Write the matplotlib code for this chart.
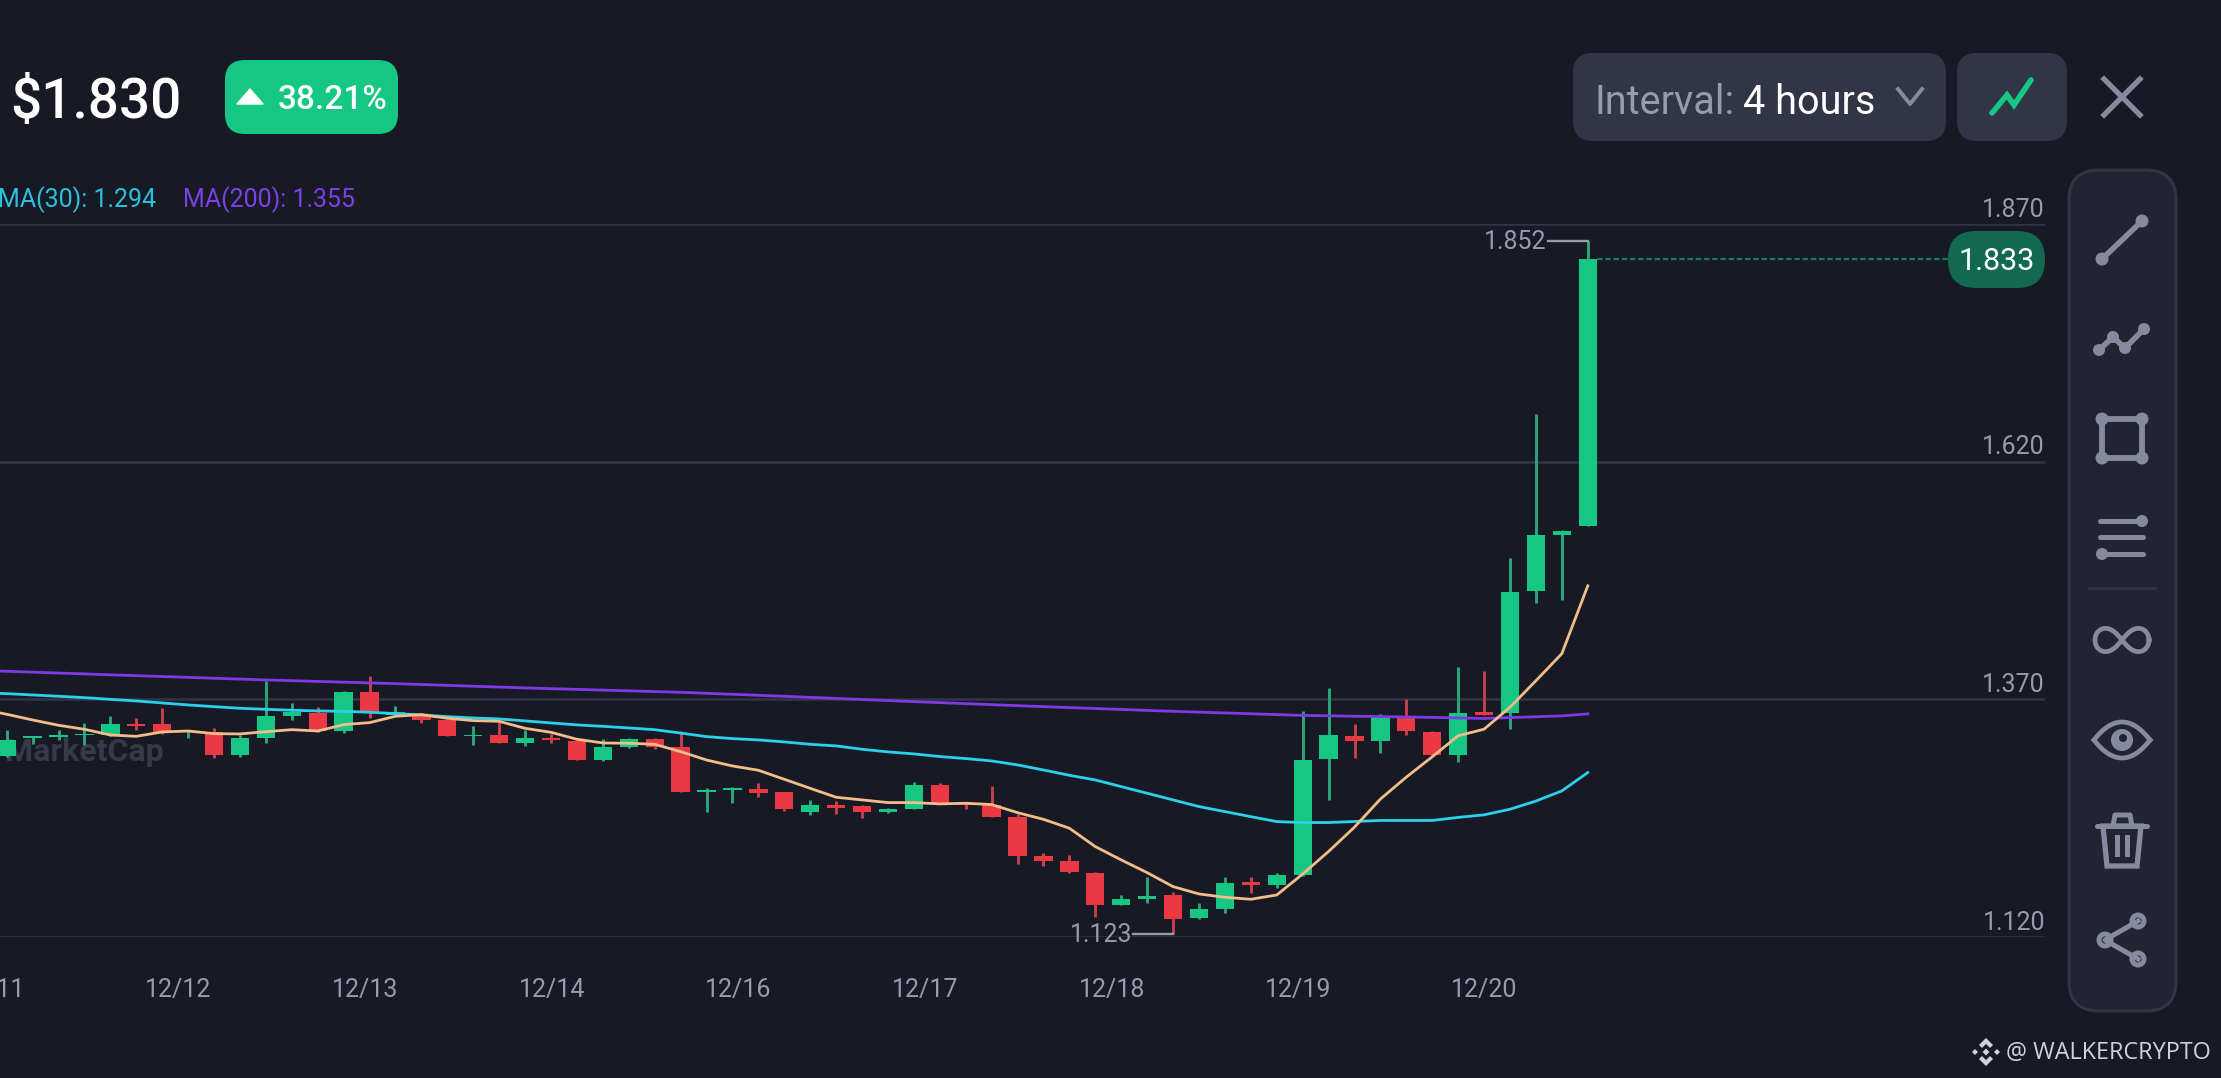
import matplotlib
matplotlib.use("Agg")
import matplotlib.pyplot as plt
from matplotlib.patches import FancyBboxPatch, Polygon, Rectangle, Circle
import numpy as np

plt.rcParams['font.family'] = ['Roboto', 'DejaVu Sans']

BG = "#171a25"
PANEL = "#222531"
BORDER = "#323546"
BUTTON = "#323546"
GREEN = "#16c784"
RED = "#ea3943"
GREEN_WICK = "#2aa57c"
RED_WICK = "#c8404a"
ICON = "#858a9e"
LABEL = "#979baa"

# 4h candles, price
opens = [1.310, 1.329, 1.330, 1.332, 1.3325, 1.344, 1.344, 1.336, 1.336, 1.311,
         1.329, 1.3525, 1.356, 1.337, 1.378, 1.353, 1.3535, 1.348, 1.331, 1.332,
         1.3245, 1.329, 1.326, 1.306, 1.320, 1.328, 1.3195, 1.2726, 1.2750, 1.2757,
         1.2722, 1.2516, 1.2593, 1.2582, 1.2519, 1.2551, 1.2803, 1.2610, 1.2593, 1.2459,
         1.2049, 1.2000, 1.1877, 1.1537, 1.1600, 1.1639, 1.1397, 1.1492, 1.1776, 1.1751,
         1.1857, 1.3070, 1.3317, 1.3263, 1.3504, 1.3359, 1.3118, 1.3569, 1.3558, 1.4835,
         1.5426, 1.5522]
closes = [1.327, 1.331, 1.332, 1.334, 1.344, 1.342, 1.335, 1.337, 1.311, 1.329,
          1.352, 1.357, 1.337, 1.378, 1.356, 1.357, 1.348, 1.331, 1.333, 1.3245,
          1.329, 1.327, 1.306, 1.320, 1.328, 1.3195, 1.273, 1.2747, 1.2771, 1.2719,
          1.2544, 1.2589, 1.2561, 1.2519, 1.2551, 1.2800, 1.2607, 1.2586, 1.2463, 1.2053,
          1.2004, 1.1881, 1.1537, 1.1600, 1.1635, 1.1393, 1.1492, 1.1769, 1.1744, 1.1856,
          1.3064, 1.3322, 1.3263, 1.3510, 1.3365, 1.3113, 1.3558, 1.3537, 1.4830, 1.5431,
          1.5474, 1.833]
highs = [1.338, 1.331, 1.338, 1.345, 1.352, 1.350, 1.361, 1.338, 1.340, 1.332,
         1.389, 1.366, 1.362, 1.379, 1.395, 1.363, 1.356, 1.349, 1.342, 1.347,
         1.338, 1.3335, 1.327, 1.328, 1.329, 1.329, 1.337, 1.2768, 1.2775, 1.2824,
         1.2726, 1.2642, 1.2635, 1.2589, 1.2554, 1.2831, 1.2824, 1.2621, 1.2789, 1.2494,
         1.2081, 1.2060, 1.1881, 1.1639, 1.1828, 1.1670, 1.1555, 1.1835, 1.1832, 1.1870,
         1.3579, 1.3821, 1.3440, 1.3547, 1.3708, 1.3370, 1.4041, 1.3993, 1.5189, 1.6703,
         1.5479, 1.852]
lows = [1.309, 1.323, 1.327, 1.322, 1.3315, 1.338, 1.334, 1.329, 1.308, 1.309,
        1.324, 1.348, 1.336, 1.335, 1.350, 1.352, 1.345, 1.331, 1.322, 1.324,
        1.321, 1.324, 1.306, 1.305, 1.319, 1.3175, 1.272, 1.2519, 1.2607, 1.2677,
        1.2523, 1.2487, 1.2494, 1.2452, 1.2501, 1.2544, 1.2600, 1.2544, 1.2459, 1.1972,
        1.1951, 1.1877, 1.1415, 1.1534, 1.1558, 1.123, 1.1393, 1.1457, 1.1667, 1.1713,
        1.1846, 1.2646, 1.3080, 1.3139, 1.3322, 1.3107, 1.3037, 1.3537, 1.3392, 1.4717,
        1.4749, 1.552]

# moving averages, first value is one candle left of the frame
ma_orange = [1.3595, 1.3543, 1.3483, 1.3427, 1.3385, 1.3325, 1.3311, 1.3357, 1.3367, 1.3339,
             1.3336, 1.3360, 1.3381, 1.3367, 1.3434, 1.3455, 1.3522, 1.3539, 1.3501, 1.3476,
             1.3469, 1.3395, 1.3353, 1.3280, 1.3241, 1.3238, 1.3227, 1.3150, 1.3062, 1.2999,
             1.2954, 1.2859, 1.2764, 1.2670, 1.2642, 1.2614, 1.2614, 1.2600, 1.2607, 1.2593,
             1.2508, 1.2438, 1.2344, 1.2151, 1.2011, 1.1877, 1.1730, 1.1653, 1.1618, 1.1597,
             1.1642, 1.1862, 1.2100, 1.2356, 1.2651, 1.2882, 1.3096, 1.3317, 1.3386, 1.3617,
             1.3896, 1.4181, 1.4894]
ma30 = [1.3771, 1.3760, 1.3746, 1.3732, 1.3718, 1.3700, 1.3683, 1.3662, 1.3641, 1.3623,
        1.3606, 1.3595, 1.3585, 1.3578, 1.3574, 1.3564, 1.3550, 1.3536, 1.3518, 1.3504,
        1.3494, 1.3473, 1.3452, 1.3431, 1.3416, 1.3399, 1.3381, 1.3345, 1.3308, 1.3287,
        1.3273, 1.3252, 1.3227, 1.3210, 1.3175, 1.3147, 1.3126, 1.3098, 1.3077, 1.3052,
        1.3010, 1.2957, 1.2901, 1.2852, 1.2782, 1.2712, 1.2642, 1.2572, 1.2519, 1.2466,
        1.2414, 1.2404, 1.2404, 1.2415, 1.2426, 1.2426, 1.2426, 1.2458, 1.2485, 1.2544,
        1.2630, 1.2737, 1.2930]
ma200_idx = [-1, 0, 5, 10, 15, 20, 26, 30, 35, 40, 45, 50, 55, 57, 60, 61]
ma200 = [1.4003, 1.3995, 1.3949, 1.3904, 1.3865, 1.3820, 1.3774, 1.3732, 1.3676, 1.3623,
         1.3574, 1.3531, 1.3510, 1.3499, 1.3526, 1.3547]

price_ticks = [1.120, 1.370, 1.620, 1.870]
date_labels = ["12/11", "12/12", "12/13", "12/14", "12/16", "12/17", "12/18", "12/19", "12/20"]
date_idx = [-0.57, 6.63, 13.84, 21.04, 28.22, 35.43, 42.64, 49.82, 57.02]

last_price = 1.833
low_mark = 1.123
high_mark = 1.852


def rbox(ax, x0, y0, x1, y1, r, fc, ec="none", lw=0):
    ax.add_patch(FancyBboxPatch((x0, y0), x1 - x0, y1 - y0,
                                boxstyle=f"round,pad=0,rounding_size={r}",
                                fc=fc, ec=ec, lw=lw))


def draw_candles(ax):
    x = np.arange(len(opens))
    o = np.array(opens)
    c = np.array(closes)
    up = c >= o
    wick_cols = [GREEN_WICK if u else RED_WICK for u in up]
    body_cols = [GREEN if u else RED for u in up]
    ax.vlines(x, lows, highs, colors=wick_cols, lw=2.1, zorder=3)
    ax.bar(x, np.abs(c - o), bottom=np.minimum(o, c), width=0.706, color=body_cols, zorder=4)


def draw_chart(ax):
    ax.set_facecolor("none")
    for s in ax.spines.values():
        s.set_visible(False)

    ax.set_yticks(price_ticks)
    ax.set_yticklabels([])
    ax.grid(axis='y', color=BORDER, lw=1.8, zorder=1)
    ax.set_axisbelow(True)
    ax.tick_params(axis='y', length=0)
    ax.set_xticks(date_idx)
    ax.set_xticklabels(date_labels, fontsize=18, color=LABEL)
    ax.tick_params(axis='x', length=0, pad=29.5)

    # axes start left of the figure so 12/11 is cut by the edge like in the app
    ax.set_xlim(-2.573, 78.64)
    ax.set_ylim(1.12, 1.87)

    for p in price_ticks:
        ax.annotate(f"{p:.3f}", xy=(1, p), xycoords=('axes fraction', 'data'),
                    xytext=(0, 5.2), textcoords='offset points', ha='right', va='baseline',
                    fontsize=18, color=LABEL)

    ax.text(6.04, 1.3150, "MarketCap", fontsize=23, fontweight='bold', color="#363946",
            ha='right', va='center', zorder=0)

    draw_candles(ax)

    x_ma = np.arange(-1, len(opens))
    ax.plot(ma200_idx, ma200, color="#8139e8", lw=2.0, zorder=5)
    ax.plot(x_ma, ma30, color="#2bd0ea", lw=2.0, zorder=6)
    ax.plot(x_ma, ma_orange, color="#f3bd8a", lw=2.0, zorder=7)

    # high / low leaders
    last = len(opens) - 1
    ax.plot([last - 1.55, last], [high_mark, high_mark], color=LABEL, lw=1.7, zorder=5)
    ax.text(last - 1.58, high_mark - 0.001, f"{high_mark:.3f}", fontsize=18, color=LABEL, ha='right', va='center')
    low_i = int(np.argmin(lows))
    ax.plot([low_i - 1.55, low_i], [low_mark, low_mark], color=LABEL, lw=1.7, zorder=5)
    ax.text(low_i - 1.58, low_mark - 0.001, f"{low_mark:.3f}", fontsize=18, color=LABEL, ha='right', va='center')

    # current price
    ax.plot([last + 0.35, 75], [last_price, last_price], color="#157a5a", lw=1.6,
            ls=(0, (2.5, 1.2)), zorder=2)


def draw_header(ui):
    ui.text(10, 102.5, "$1.830", fontsize=39.5, color="white", fontweight='medium', ha='left', va='center')
    rbox(ui, 225, 60, 398, 134, 20, GREEN)
    ui.add_patch(Polygon([(237, 104), (250, 89), (263, 104)], closed=True, fc="white", ec="white", lw=1, joinstyle='round'))
    ui.text(278, 100, "38.21%", fontsize=24, color="white", fontweight='medium', ha='left', va='center')

    ui.text(-2, 200, "MA(30): 1.294", fontsize=18, color="#2bc0dc", ha='left', va='center')
    ui.text(183, 200, "MA(200): 1.355", fontsize=18, color="#7c40e4", ha='left', va='center')

    rbox(ui, 1573, 53, 1946, 141, 20, BUTTON)
    rbox(ui, 1957, 53, 2067, 141, 20, BUTTON)
    ui.text(1594, 102, "Interval:", fontsize=28.5, color="#979baa", ha='left', va='center')
    ui.text(1743, 102, "4 hours", fontsize=28.5, color="white", ha='left', va='center')
    ui.plot([1898, 1910, 1922], [89, 104, 89], color=ICON, lw=2.8)
    ui.plot([1992, 2007, 2014, 2031], [113, 95, 105, 80], color=GREEN, lw=4,
            solid_capstyle='round', solid_joinstyle='miter')
    ui.plot([2104, 2140], [79, 115], color=ICON, lw=3.8)
    ui.plot([2104, 2140], [115, 79], color=ICON, lw=3.8)

    # price pill
    rbox(ui, 1948, 231, 2045, 288, 28, "#12694f")
    ui.text(1997, 261, "1.833", fontsize=22, color="white", ha='center', va='center')


def dot(ui, x, y, r=6.5, fc=ICON):
    ui.add_patch(Circle((x, y), r, fc=fc, ec="none"))


def draw_toolbar(ui):
    rbox(ui, 2069, 170, 2176, 1011, 30, PANEL, BORDER, 2.2)

    # line
    ui.plot([2102, 2142], [259, 221], color=ICON, lw=4)
    dot(ui, 2102, 259)
    dot(ui, 2142, 221)
    # polyline
    ui.plot([2099, 2113, 2125, 2144], [350, 337, 348, 329], color=ICON, lw=4)
    for px, py in zip([2099, 2113, 2125, 2144], [350, 337, 348, 329]):
        dot(ui, px, py, 6)
    # rectangle
    ui.add_patch(Rectangle((2102, 419), 40, 39, fc="none", ec=ICON, lw=4.2))
    for px in [2102, 2142]:
        for py in [419, 458]:
            dot(ui, px, py, 6.5)
    # parallel lines
    for py, x0, x1 in [(521, 2100, 2142), (537, 2100, 2143), (554, 2102, 2143)]:
        ui.plot([x0, x1], [py, py], color=ICON, lw=3.6, solid_capstyle='round')
    dot(ui, 2142, 521, 6)
    dot(ui, 2102, 554, 6)
    ui.plot([2089, 2155], [588, 588], color=BORDER, lw=1.8)

    # infinity
    t = np.linspace(0, 2 * np.pi, 120)
    ui.plot(2122 + 27 * np.cos(t) / (1 + np.sin(t) ** 2),
            640 + 33 * np.sin(t) * np.cos(t) / (1 + np.sin(t) ** 2), color=ICON, lw=3.4)

    # eye
    ex = np.linspace(-28, 28, 60)
    ui.plot(2122 + ex, 740 - 18 * (1 - (ex / 28) ** 2), color=ICON, lw=3.4)
    ui.plot(2122 + ex, 740 + 18 * (1 - (ex / 28) ** 2), color=ICON, lw=3.4)
    dot(ui, 2122, 740, 11)
    dot(ui, 2123, 738, 4, PANEL)

    # trash
    ui.plot([2097, 2147], [826, 826], color=ICON, lw=3.6, solid_capstyle='round')
    ui.plot([2113, 2115, 2130, 2132], [826, 815, 815, 826], color=ICON, lw=3.6)
    ui.add_patch(Polygon([(2103, 826), (2141, 826), (2137, 866), (2107, 866)], closed=True,
                         fc="none", ec=ICON, lw=3.8))
    ui.add_patch(Rectangle((2114.5, 835), 5.5, 22, fc=ICON))
    ui.add_patch(Rectangle((2124.5, 835), 5.5, 22, fc=ICON))

    # share
    ui.plot([2138, 2105, 2138], [921, 940, 959], color=ICON, lw=3.6)
    for px, py in [(2105, 940), (2138, 921), (2138, 959)]:
        dot(ui, px, py, 8.5)
        dot(ui, px, py, 3.5, PANEL)


def draw_watermark(ui):
    col = "#d0d2d8"
    cx, cy = 1986, 1052
    ui.add_patch(Polygon([(cx - 3.5, cy), (cx, cy - 3.5), (cx + 3.5, cy), (cx, cy + 3.5)], fc=col))
    ui.add_patch(Polygon([(cx - 14, cy), (cx - 11, cy - 3), (cx - 8, cy), (cx - 11, cy + 3)], fc=col))
    ui.add_patch(Polygon([(cx + 14, cy), (cx + 11, cy - 3), (cx + 8, cy), (cx + 11, cy + 3)], fc=col))
    ui.add_patch(Polygon([(cx, cy - 14), (cx + 7, cy - 7), (cx + 4, cy - 4), (cx, cy - 8), (cx - 4, cy - 4), (cx - 7, cy - 7)], fc=col))
    ui.add_patch(Polygon([(cx, cy + 14), (cx + 7, cy + 7), (cx + 4, cy + 4), (cx, cy + 8), (cx - 4, cy + 4), (cx - 7, cy + 7)], fc=col))
    ui.text(2006, 1053, "@ WALKERCRYPTO", fontsize=16.8, family="Open Sans", color=col, ha='left', va='center')


def main():
    W, H = 2221, 1078
    fig = plt.figure(figsize=(W / 100, H / 100), dpi=100, facecolor=BG)

    ax = fig.add_axes([-60 / W, (H - 937) / H, 2105 / W, (937 - 224) / H], zorder=1)
    draw_chart(ax)

    ui = fig.add_axes([0, 0, 1, 1], zorder=2)
    ui.set_xlim(0, W)
    ui.set_ylim(H, 0)
    ui.axis('off')
    draw_header(ui)
    draw_toolbar(ui)
    draw_watermark(ui)

    fig.savefig("out.png", dpi=100, facecolor=BG)


if __name__ == '__main__':
    main()
